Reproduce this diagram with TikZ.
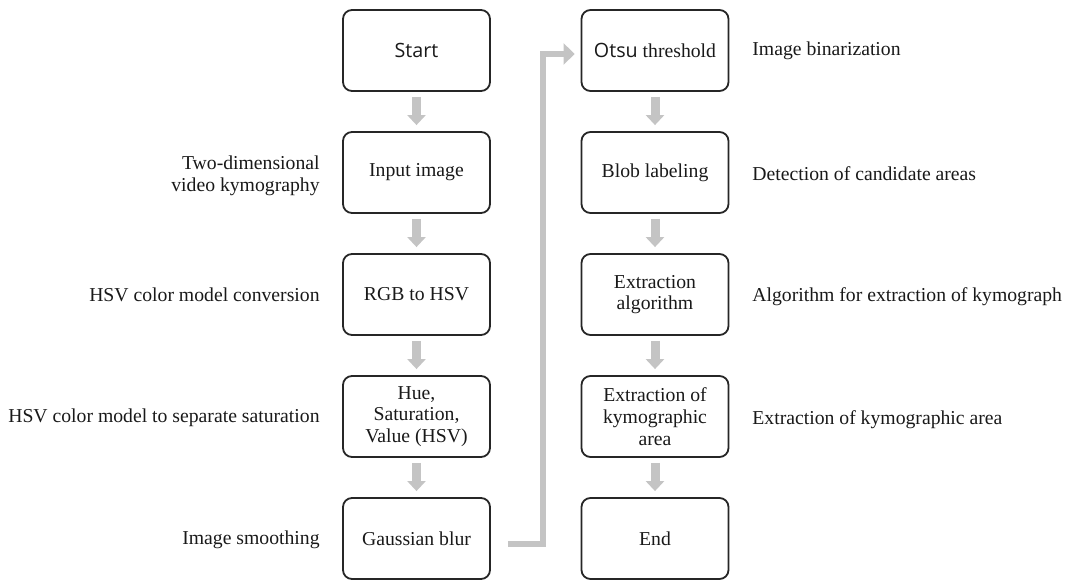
\documentclass[tikz,border=0pt]{standalone}
\usepackage{fontspec}
\setmainfont{Liberation Serif}
\newfontfamily\sansf{Open Sans}
\usetikzlibrary{arrows.meta,calc}
\definecolor{arrgray}{RGB}{196,196,196}
\begin{document}
\begin{tikzpicture}[x=0.5pt,y=-0.5pt,
  font=\fontsize{9.85}{10.85}\selectfont,
  box/.style={draw=black!85,line width=0.9pt,rounded corners=4.5pt,
    minimum width=73.5pt,minimum height=40.5pt,inner sep=0pt,align=center,
    text=black!90},
  lbl/.style={anchor=east,align=right,text=black!90,inner sep=0pt},
  rbl/.style={anchor=west,align=left,text=black!90,inner sep=0pt},
  flow/.style={draw=arrgray,line width=4.5pt,
    -{Triangle[width=9pt,length=5pt]},shorten <=2.5pt,shorten >=3pt},
  conn/.style={draw=arrgray,line width=3pt,line join=miter,
    -{Triangle[width=10.5pt,length=5.5pt]}}]
\useasboundingbox (0,0) rectangle (1065,581);
% left column
\node[box] (start) at (416.5,50.5) {{\sansf Start}};
\node[box] (input) at (416.5,172.5) {Input image};
\node[box] (rgb)   at (416.5,294.5) {RGB to HSV};
\node[box] (hue)   at (416.5,416.5) {Hue,\\Saturation,\\Value (HSV)};
\node[box] (gauss) at (416.5,538.5) {Gaussian blur};
% right column
\node[box] (otsu) at (655,50.5) {{\sansf Otsu} threshold};
\node[box] (blob) at (655,172.5) {Blob labeling};
\node[box] (extr) at (655,294.5) {Extraction\\algorithm};
\node[box] (kymo) at (655,416.5) {Extraction of\\kymographic\\area};
\node[box] (end)  at (655,538.5) {End};
% left labels
\node[lbl] (l1) at (320,176) {Two-dimensional\\video kymography};
\node[lbl] (l2) at (320,294.5) {HSV color model conversion};
\node[lbl] (l3) at (320,418) {HSV color model to separate saturation};
\node[lbl] (l4) at (320,540) {Image smoothing};
% right labels
\node[rbl] (r1) at (752,50.5) {Image binarization};
\node[rbl] (r2) at (752,174) {Detection of candidate areas};
\node[rbl] (r3) at (752,297) {Algorithm for extraction of kymograph};
\node[rbl] (r4) at (752,420) {Extraction of kymographic area};
% arrows
\draw[flow] (start.south) -- (input.north);
\draw[flow] (input.south) -- (rgb.north);
\draw[flow] (rgb.south) -- (hue.north);
\draw[flow] (hue.south) -- (gauss.north);
\draw[flow] (otsu.south) -- (blob.north);
\draw[flow] (blob.south) -- (extr.north);
\draw[flow] (extr.south) -- (kymo.north);
\draw[flow] (kymo.south) -- (end.north);
\draw[conn] ([shift={(8.5pt,-2.75pt)}]gauss.east) -- ++(35,0)
  |- ([shift={(-3pt,-1.75pt)}]otsu.west);
\end{tikzpicture}
\end{document}
